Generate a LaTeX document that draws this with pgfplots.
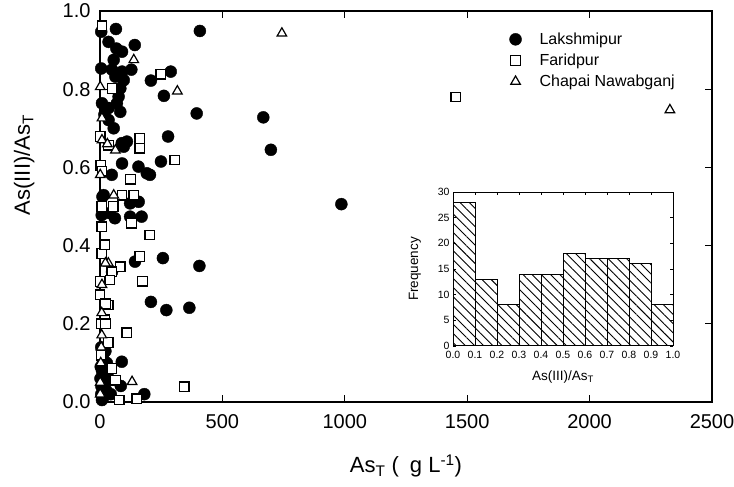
\documentclass[border=0pt]{standalone}
\usepackage{fontspec}
\setmainfont{Liberation Sans}
\usepackage{pgfplots}
\pgfplotsset{compat=1.18}
\usetikzlibrary{patterns.meta}
\begin{document}
\begin{tikzpicture}
\pgfplotsset{/pgf/number format/assume math mode=true}
\begin{axis}[
  at={(100bp,85bp)}, anchor=south west,
  scale only axis, width=612bp, height=391bp,
  xmin=0, xmax=2500, ymin=0, ymax=1,
  xtick={0,500,1000,1500,2000,2500},
  ytick={0,0.2,0.4,0.6,0.8,1.0},
  xticklabel style={/pgf/number format/.cd, fixed, 1000 sep={}, /tikz/.cd, yshift=-9bp},
  yticklabel style={/pgf/number format/.cd, fixed, fixed zerofill, precision=1, /tikz/.cd, xshift=-6bp},
  tick label style={font=\fontsize{20bp}{22bp}\selectfont},
  label style={font=\fontsize{22bp}{25bp}\selectfont},
  xlabel={As\textsubscript{T} (\enspace g L\textsuperscript{-1})},
  ylabel={As(III)/As\textsubscript{T}},
  xlabel style={at={(axis description cs:0.5,-0.164)}, anchor=center},
  ylabel style={at={(axis description cs:-0.124,0.606)}, anchor=center},
  axis line style={line width=1.2bp},
  tick style={line width=1.2bp, black},
  major tick length=7bp,
  clip=false,
  legend style={draw=none, fill=none, at={(0.664,0.955)}, anchor=north west,
    font=\fontsize{16bp}{18bp}\selectfont, row sep=4bp},
  legend image code/.code={\path[draw=none,fill=none] (0bp,0bp) (22bp,0bp); \draw[#1] plot coordinates {(0bp,0bp)};},
  legend cell align=left,
]
\addplot[only marks, mark=*, mark size=6bp, black] coordinates {
(408,0.949) (289,0.845) (208,0.822) (261,0.783) (395,0.738) (667,0.728)
(698,0.645) (278,0.679) (249,0.615) (204,0.581) (986,0.506) (257,0.368)
(406,0.348) (208,0.256) (271,0.235) (365,0.241)
(5,0.947) (65,0.954) (35,0.921) (67,0.904) (142,0.913) (90,0.896)
(56,0.875) (5,0.853) (49,0.850) (90,0.845) (128,0.850) (63,0.832)
(97,0.823) (83,0.802) (76,0.781) (69,0.764) (8,0.764) (35,0.752)
(22,0.751) (83,0.742) (35,0.721) (56,0.700) (18,0.735) (110,0.666)
(97,0.653) (89,0.662) (90,0.610) (157,0.602) (191,0.585) (48,0.581)
(15,0.529) (158,0.512) (123,0.508) (10,0.525) (7,0.478) (61,0.470)
(123,0.474) (170,0.474) (40,0.483) (143,0.359) (49,0.333) (89,0.103)
(85,0.041) (181,0.020) (44,0.020) (5,0.020) (10,0.040) (15,0.060)
(8,0.080) (20,0.100) (12,0.120) (5,0.140) (25,0.030) (18,0.050)
(3,0.090) (22,0.130) (10,0.110) (30,0.070) (2,0.060) (12,0.010)
(28,0.100) (6,0.040) (8,0.005)
};
\addlegendentry{Lakshmipur}
\addplot[only marks, mark=square*, mark size=4.8bp, mark options={fill=white, draw=black, line width=1.3bp}] coordinates {
(1454,0.780) (8,0.962) (248,0.838) (306,0.619) (204,0.427) (344,0.039)
(163,0.372) (82,0.346) (48,0.333) (41,0.312) (173,0.309) (109,0.177)
(34,0.248) (7,0.380) (20,0.402) (7,0.448) (0,0.308) (0,0.274)
(20,0.210) (34,0.152) (48,0.086) (150,0.008) (79,0.005) (7,0.500)
(54,0.500) (129,0.457) (49,0.802) (1,0.679) (162,0.674) (162,0.649)
(35,0.657) (3,0.605) (124,0.570) (90,0.529) (138,0.529) (22,0.251)
(5,0.200) (22,0.200) (63,0.056) (5,0.120) (8,0.590)
};
\addlegendentry{Faridpur}
\addplot[only marks, mark=triangle*, mark size=5.5bp, mark options={fill=white, draw=black, line width=1.2bp}] coordinates {
(743,0.943) (2328,0.747) (138,0.875) (316,0.795) (1,0.806) (8,0.726)
(8,0.670) (63,0.644) (30,0.660) (1,0.581) (56,0.529) (34,0.355)
(22,0.355) (7,0.228) (7,0.171) (131,0.052) (1,0.050) (1,0.020)
(3,0.100) (5,0.140) (8,0.300)
};
\addlegendentry{Chapai Nawabganj}
\end{axis}
\begin{axis}[
  at={(453bp,141bp)}, anchor=south west,
  scale only axis, width=220bp, height=154bp,
  xmin=0, xmax=1, ymin=0, ymax=30,
  xtick={0,0.1,0.2,0.3,0.4,0.5,0.6,0.7,0.8,0.9,1.0},
  ytick={0,5,10,15,20,25,30},
  xticklabel style={/pgf/number format/.cd, fixed, fixed zerofill, precision=1, /tikz/.cd, yshift=-2bp},
  tick label style={font=\fontsize{10.5bp}{12bp}\selectfont},
  label style={font=\fontsize{13.5bp}{15bp}\selectfont},
  xlabel={As(III)/As\textsubscript{T}},
  ylabel={Frequency},
  xlabel style={at={(axis description cs:0.5,-0.20)}, anchor=center},
  ylabel style={at={(axis description cs:-0.173,0.5)}, anchor=center},
  axis background/.style={fill=white},
  axis line style={line width=1bp},
  tick style={line width=0.8bp, black},
  major tick length=3bp,
]
\addplot[ybar interval, draw=black, line width=1bp,
  pattern={Lines[angle=-45, distance=6.5bp, line width=0.9bp]}] coordinates {
(0,28) (0.1,13) (0.2,8) (0.3,14) (0.4,14) (0.5,18) (0.6,17) (0.7,17) (0.8,16) (0.9,8) (1.0,8)
};
\end{axis}
\pgfresetboundingbox
\path[use as bounding box] (0,0) rectangle (734bp,487bp);
\end{tikzpicture}
\end{document}
